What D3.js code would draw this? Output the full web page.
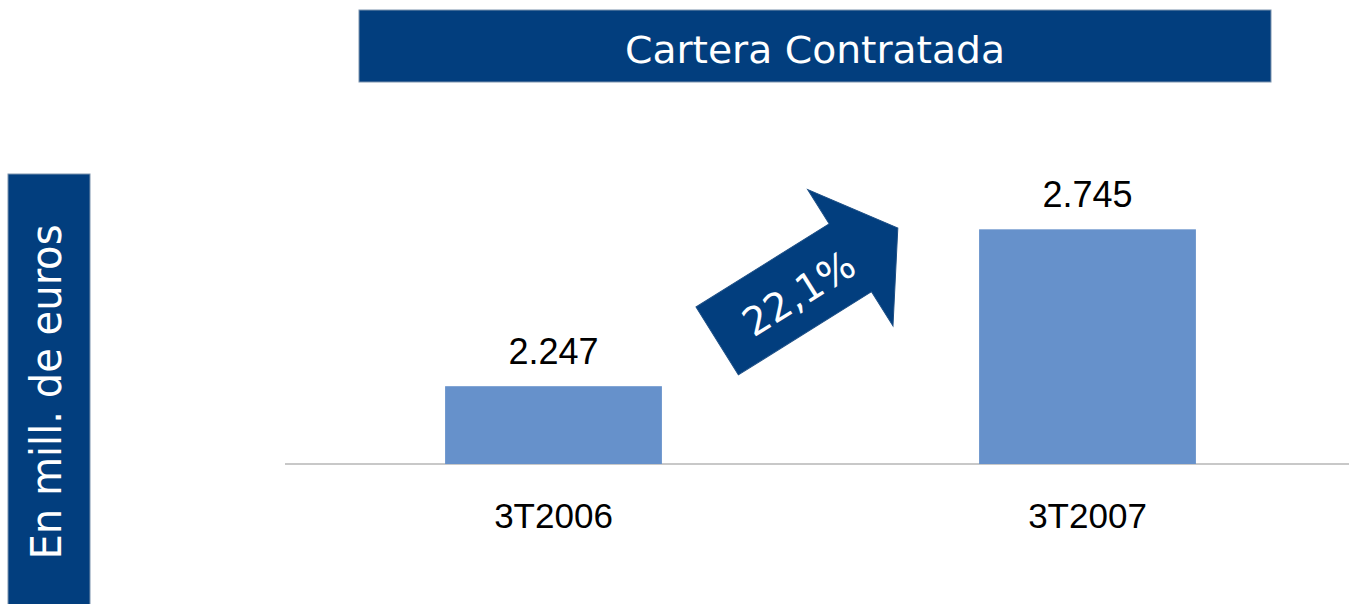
<!DOCTYPE html>
<html>
<head>
<meta charset="utf-8">
<script src="https://cdn.jsdelivr.net/npm/d3@7/dist/d3.min.js"></script>
<style>
  html, body { margin: 0; padding: 0; background: #fff; }
  svg { display: block; }
</style>
</head>
<body>
<svg id="chart" width="1349" height="604"></svg>
<script>
// datos
const categories = ['3T2006', '3T2007']
const values = [2247, 2745]
const valueLabels = ['2.247', '2.745']
const growthLabel = '22,1%'
const titleText = 'Cartera Contratada'
const unitText = 'En mill. de euros'

const W = 1349, H = 604
const navy = '#023e7e'
const barColor = '#6691cb'

const svg = d3.select('#chart')

// escalas
const x = d3.scaleBand()
  .domain(categories)
  .range([286.5, 1354.5])
  .paddingInner(0.594)
  .paddingOuter(0.297)

const y = d3.scaleLinear()
  .domain([2000, 3000])
  .range([464, 149])

// caja del titulo
const titleG = svg.append('g')
titleG.append('rect')
  .attr('x', 359).attr('y', 10)
  .attr('width', 912).attr('height', 72)
  .attr('fill', navy)
  .attr('stroke', '#7d93ad').attr('stroke-width', 1)
titleG.append('text')
  .attr('x', 815).attr('y', 63)
  .attr('text-anchor', 'middle')
  .attr('font-family', 'DejaVu Sans Condensed, DejaVu Sans, sans-serif')
  .attr('font-stretch', 'condensed')
  .attr('font-size', 38)
  .attr('textLength', 380)
  .attr('lengthAdjust', 'spacingAndGlyphs')
  .attr('fill', '#fff')
  .text(titleText)

// caja vertical de unidades
const unitG = svg.append('g')
unitG.append('rect')
  .attr('x', 8).attr('y', 174)
  .attr('width', 82).attr('height', 440)
  .attr('fill', navy)
  .attr('stroke', '#7d93ad').attr('stroke-width', 1)
unitG.append('text')
  .attr('transform', 'translate(61,392) rotate(-90)')
  .attr('text-anchor', 'middle')
  .attr('font-family', 'DejaVu Sans Condensed, DejaVu Sans, sans-serif')
  .attr('font-stretch', 'condensed')
  .attr('font-size', 42)
  .attr('textLength', 335)
  .attr('lengthAdjust', 'spacingAndGlyphs')
  .attr('fill', '#fff')
  .text(unitText)

// eje base
svg.append('line')
  .attr('x1', 285).attr('x2', W)
  .attr('y1', y(2000)).attr('y2', y(2000))
  .attr('stroke', '#c8c8c8').attr('stroke-width', 2)

// barras
const data = categories.map((c, i) => ({ cat: c, value: values[i], label: valueLabels[i] }))

svg.append('g').selectAll('rect')
  .data(data)
  .enter()
  .append('rect')
  .attr('x', d => x(d.cat))
  .attr('y', d => y(d.value))
  .attr('width', x.bandwidth())
  .attr('height', d => y(2000) - y(d.value))
  .attr('fill', barColor)

// etiquetas de valor
svg.append('g').selectAll('text')
  .data(data)
  .enter()
  .append('text')
  .attr('x', d => x(d.cat) + x.bandwidth() / 2)
  .attr('y', d => y(d.value) - 22)
  .attr('text-anchor', 'middle')
  .attr('font-family', 'Liberation Sans, Arial, sans-serif')
  .attr('font-size', 36)
  .attr('fill', '#000')
  .text(d => d.label)

// etiquetas de categoria
svg.append('g').selectAll('text')
  .data(data)
  .enter()
  .append('text')
  .attr('x', d => x(d.cat) + x.bandwidth() / 2)
  .attr('y', 528)
  .attr('text-anchor', 'middle')
  .attr('font-family', 'Liberation Sans, Arial, sans-serif')
  .attr('font-size', 35)
  .attr('fill', '#000')
  .text(d => d.cat)

// flecha de crecimiento
const gapMid = (x(categories[0]) + x.bandwidth() + x(categories[1])) / 2
const arrowLen = 213, shaftLen = 157, shaftW = 80, headW = 161
const ax = -arrowLen / 2
const arrowPts = [
  [ax, -shaftW / 2],
  [ax + shaftLen, -shaftW / 2],
  [ax + shaftLen, -headW / 2],
  [ax + arrowLen, 0],
  [ax + shaftLen, headW / 2],
  [ax + shaftLen, shaftW / 2],
  [ax, shaftW / 2]
]
const arrowG = svg.append('g')
  .attr('transform', 'translate(' + (gapMid - 13) + ',284.5) rotate(-32)')
arrowG.append('path')
  .attr('d', d3.line()(arrowPts) + 'Z')
  .attr('fill', navy)
  .attr('stroke', '#1d4f86').attr('stroke-width', 1)
arrowG.append('text')
  .attr('x', -12).attr('y', 3)
  .attr('text-anchor', 'middle')
  .attr('dominant-baseline', 'central')
  .attr('font-family', 'DejaVu Sans, Verdana, sans-serif')
  .attr('font-size', 39)
  .attr('fill', '#fff')
  .text(growthLabel)
</script>
</body>
</html>
